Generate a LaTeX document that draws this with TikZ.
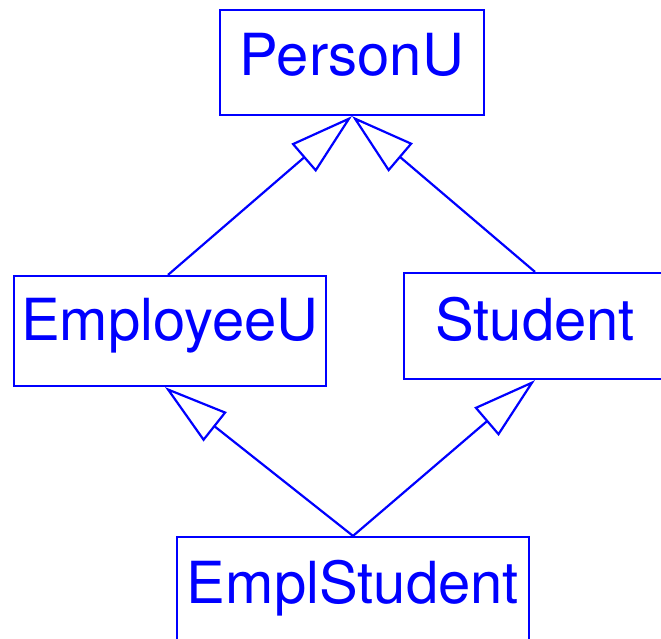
\documentclass[tikz,border=0pt]{standalone}
\usepackage{fontspec}
\setmainfont{TeX Gyre Heros}
\usetikzlibrary{arrows.meta}
\definecolor{umlblue}{RGB}{0,0,255}
\tikzset{
  classbox/.style={draw=umlblue, text=umlblue, line width=2.2pt, inner sep=0pt, align=center,
    font=\fontsize{58}{60}\selectfont, anchor=base},
  inherit/.style={draw=umlblue, line width=2.2pt,
    -{Triangle[open, length=64pt, width=37pt, line width=2.2pt]}}
}
\begin{document}
\begin{tikzpicture}[x=1pt, y=-1pt]
\useasboundingbox (0,0) rectangle (661,638);
\node[classbox, minimum width=264pt, text height=65pt, text depth=40pt] (person) at (352,75) {PersonU};
\node[classbox, minimum width=312pt, text height=64pt, text depth=46pt] (emp) at (170,340) {EmployeeU};
\node[classbox, minimum width=262pt, text height=67pt, text depth=39pt] (stud) at (535,340) {Student};
\node[classbox, minimum width=352pt, text height=66pt, text depth=42pt] (es) at (353,603) {EmplStudent};
\draw[inherit] ([xshift=-2pt]emp.north) -- (person.south);
\draw[inherit] (stud.north) -- (person.south);
\draw[inherit] (es.north) -- ([xshift=-5pt]emp.south);
\draw[inherit] (es.north) -- (stud.south);
\end{tikzpicture}
\end{document}
